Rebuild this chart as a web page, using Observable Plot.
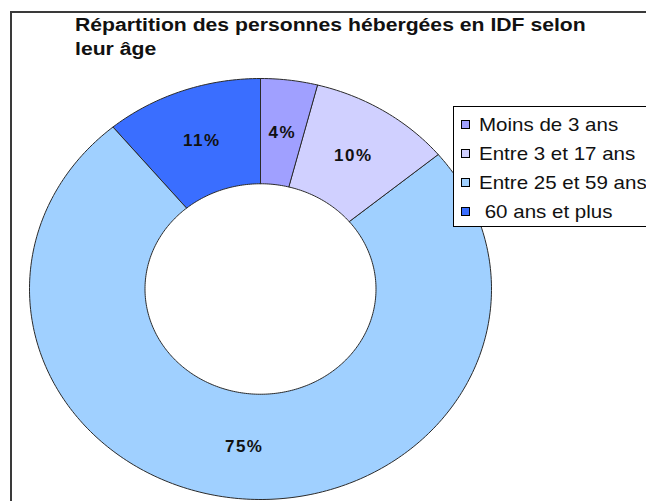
<!DOCTYPE html>
<html>
<head>
<meta charset="utf-8">
<script src="https://cdn.jsdelivr.net/npm/d3@7"></script>
<script src="https://cdn.jsdelivr.net/npm/@observablehq/plot@0.6"></script>
<style>
html,body{margin:0;padding:0;background:#fff;overflow:hidden;width:646px;height:501px}
#root{position:relative;width:646px;height:501px;overflow:hidden;font-family:"Liberation Sans",Arial,sans-serif;color:#111}
#frame{position:absolute;left:10px;top:11px;width:700px;height:600px;border-top:2px solid #3a3a3a;border-left:2px solid #3a3a3a;box-sizing:border-box}
#chart{position:absolute;left:0;top:0}
#chart text{letter-spacing:1.5px}
#title{position:absolute;left:75px;top:14px;font-weight:bold;font-size:17.5px;line-height:23.5px;transform:scaleX(1.21);transform-origin:left top;white-space:nowrap}
#legend{position:absolute;left:453px;top:106px;width:220px;height:121px;border:1px solid #000;background:#fff;box-sizing:border-box;padding-top:3px}
.row{display:flex;align-items:center;height:29px}
.sw{width:7px;height:7px;border:1px solid #000;margin-left:7px;margin-right:9px;flex:none}
.lab{font-size:19px;white-space:pre;transform:scaleX(1.08);transform-origin:left center;line-height:29px}
</style>
</head>
<body>
<div id="root">
  <div id="frame"></div>
  <div id="chart"></div>
  <div id="title">Répartition des personnes hébergées en IDF selon<br>leur âge</div>
  <div id="legend"></div>
</div>
<script>
// Data
const categories = ["Moins de 3 ans", "Entre 3 et 17 ans", "Entre 25 et 59 ans", " 60 ans et plus"];
const shares = [4, 10, 75, 11];
const labels = ["4%", "10%", "75%", "11%"];
const colors = ["#a0a0ff", "#d0d0ff", "#a0d0ff", "#3a6eff"];

const innerRatio = 0.5;
const labelRadius = 0.75;
const total = d3.sum(shares);

// Build slice polygons (unit-circle coordinates; scales stretch them to the page)
const polys = [];
const labelData = [];
let acc = 0;
shares.forEach((v, i) => {
  const a0 = (acc / total) * 2 * Math.PI;
  acc += v;
  const a1 = (acc / total) * 2 * Math.PI;
  const n = Math.max(2, Math.ceil((a1 - a0) / (Math.PI / 180)));
  for (let k = 0; k <= n; k++) {
    const a = a0 + (a1 - a0) * k / n;
    polys.push({cat: categories[i], x: Math.sin(a), y: Math.cos(a)});
  }
  for (let k = n; k >= 0; k--) {
    const a = a0 + (a1 - a0) * k / n;
    polys.push({cat: categories[i], x: innerRatio * Math.sin(a), y: innerRatio * Math.cos(a)});
  }
  const am = (a0 + a1) / 2;
  labelData.push({text: labels[i], x: labelRadius * Math.sin(am), y: labelRadius * Math.cos(am)});
});

const chart = Plot.plot({
  width: 646,
  height: 501,
  margin: 0,
  style: {fontFamily: "'Liberation Sans', Arial, sans-serif", background: "transparent"},
  x: {domain: [-1, 1], range: [29, 491], axis: null},
  y: {domain: [-1, 1], range: [499, 78], axis: null},
  color: {domain: categories, range: colors},
  marks: [
    Plot.line(polys, {x: "x", y: "y", z: "cat", fill: "cat", stroke: "#2a2a2a", strokeWidth: 1, curve: "linear-closed"}),
    Plot.text(labelData, {x: "x", y: "y", text: "text", fontSize: 17, fontWeight: "bold", fill: "#111"})
  ]
});
document.getElementById("chart").appendChild(chart);

// Legend
const leg = document.getElementById("legend");
categories.forEach((c, i) => {
  const row = document.createElement("div");
  row.className = "row";
  const sw = document.createElement("div");
  sw.className = "sw";
  sw.style.background = colors[i];
  const lab = document.createElement("span");
  lab.className = "lab";
  lab.textContent = c;
  row.appendChild(sw);
  row.appendChild(lab);
  leg.appendChild(row);
});
</script>
</body>
</html>
